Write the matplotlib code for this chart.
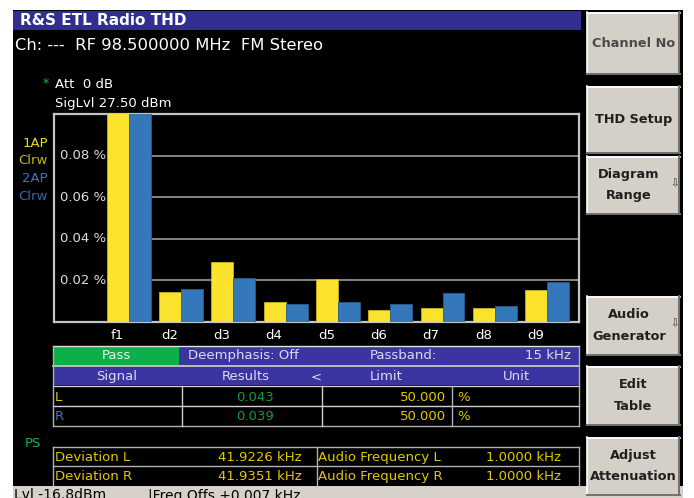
import matplotlib
matplotlib.use("Agg")
import matplotlib.pyplot as plt
from matplotlib.patches import Rectangle
from matplotlib.transforms import blended_transform_factory

# harmonic bars (percent), f1 runs off the top of the diagram
harmonics = ["f1", "d2", "d3", "d4", "d5", "d6", "d7", "d8", "d9"]
trace_1ap = [0.11, 0.0146, 0.0290, 0.0098, 0.0206, 0.0058, 0.0067, 0.0067, 0.0153]
trace_2ap = [0.11, 0.0157, 0.0210, 0.0087, 0.0098, 0.0087, 0.0138, 0.0077, 0.0191]
y_ticks = [0.02, 0.04, 0.06, 0.08]

# table contents
signals = ["L", "R"]
results = ["0.043", "0.039"]
limits = ["50.000", "50.000"]
deviations = ["41.9226 kHz", "41.9351 kHz"]
audio_freqs = ["1.0000 kHz", "1.0000 kHz"]
softkeys = ["Channel No", "THD Setup", "Diagram\nRange", "Audio\nGenerator",
            "Edit\nTable", "Adjust\nAttenuation"]

YELLOW = "#fbe22d"
BLUE = "#3477ba"
TXT_YEL = "#e2c800"
TXT_BLUE = "#3a78bd"
HEAD_BLUE = "#3a35a0"
GREEN_TXT = "#139a3c"
FS = 9.5

W, H = 694, 498
fig = plt.figure(figsize=(W / 100, H / 100), dpi=100)
fig.patch.set_facecolor("white")

# background layer in pixel coordinates
bg = fig.add_axes([0, 0, 1, 1])
bg.set_xlim(0, W)
bg.set_ylim(H, 0)
bg.axis("off")

def rect(x0, y0, x1, y1, fc, ec="none", lw=0, z=1):
    bg.add_patch(Rectangle((x0, y0), x1 - x0, y1 - y0, facecolor=fc,
                           edgecolor=ec, linewidth=lw, zorder=z))

def txt(x, y, s, color="white", size=FS, ha="left", **kw):
    bg.text(x, y, s, color=color, fontsize=size, ha=ha, va="center", zorder=5, **kw)

def hline(y, x0, x1, color="#d0d0d0", lw=1):
    bg.plot([x0, x1], [y, y], color=color, lw=lw, zorder=4)

def vline(x, y0, y1, color="#d0d0d0", lw=1):
    bg.plot([x, x], [y0, y1], color=color, lw=lw, zorder=4)

# screen
rect(13, 10, 683, 498, "black")
rect(13, 11, 581, 30, "#312e92")
txt(20, 20.5, "R&S ETL Radio THD", size=11, fontweight="bold")
txt(15, 45, "Ch: ---  RF 98.500000 MHz  FM Stereo", size=11.8)
txt(43, 83, "*", color="#19b34a", size=9)
txt(55, 84, "Att  0 dB", size=FS)
txt(55, 103, "SigLvl 27.50 dBm", size=FS)

# trace labels
txt(48, 143, "1AP", color="#f0d820", ha="right")
txt(48, 160, "Clrw", color="#c9b400", ha="right")
txt(48, 178, "2AP", color=TXT_BLUE, ha="right")
txt(48, 196, "Clrw", color="#2f69a8", ha="right")

# bar diagram
ax = fig.add_axes([54 / W, 1 - 322 / H, (579 - 54) / W, (322 - 114) / H])
ax.set_facecolor("black")
x = range(len(harmonics))
ax.bar([i - 0.42 for i in x], trace_1ap, width=0.42, align="edge",
       color=YELLOW, edgecolor="#c9b21c", linewidth=0.6, zorder=3)
ax.bar(list(x), trace_2ap, width=0.42, align="edge",
       color=BLUE, edgecolor="#285d92", linewidth=0.6, zorder=3)
ax.set_xlim(-1.43, 8.61)
ax.set_ylim(0, 0.1)
ax.hlines(y_ticks, -0.42, 8.61, color="#a8a8a8", lw=1.1, zorder=1)
trans = blended_transform_factory(ax.transAxes, ax.transData)
for t in y_ticks:
    ax.text(0.011, t, f"{t:.2f} %", transform=trans, color="#dcdcdc",
            fontsize=FS, va="center", ha="left")
ax.set_yticks([])
ax.set_xticks([i - 0.22 for i in x])
ax.set_xticklabels(harmonics, color="white", fontsize=FS)
ax.tick_params(axis="x", length=0, pad=5)
for sp in ax.spines.values():
    sp.set_color("#c4c4c4")
    sp.set_linewidth(1.6)

# pass / header rows
rect(53, 346, 579, 365, HEAD_BLUE)
rect(53, 346, 179, 365, "#0cb04a")
txt(116, 355.5, "Pass", color="#e8f4e8", ha="center")
txt(188, 355.5, "Deemphasis: Off", color="#dcdcf0")
txt(403, 355.5, "Passband:", color="#dcdcf0", ha="center")
txt(571, 355.5, "15 kHz", color="#dcdcf0", ha="right")
rect(53, 367, 579, 385, HEAD_BLUE)
hline(346, 53, 579, "#e0e0e0")
hline(366, 53, 579, "#e0e0e0", 1.2)
txt(117, 376, "Signal", color="#dcdcf0", ha="center")
txt(246, 376, "Results", color="#dcdcf0", ha="center")
txt(316, 377, "<", color="#dcdcf0", ha="center")
txt(386, 376, "Limit", color="#dcdcf0", ha="center")
txt(516, 376, "Unit", color="#dcdcf0", ha="center")

# result rows
rows_y = [397, 416]
for i, s in enumerate(signals):
    y = rows_y[i]
    txt(55, y, s, color=TXT_YEL if s == "L" else TXT_BLUE)
    txt(255, y, results[i], color=GREEN_TXT, ha="center")
    txt(446, y, limits[i], color=TXT_YEL, ha="right")
    txt(457, y, "%", color=TXT_YEL)
hline(386, 53, 579)
hline(406, 53, 579)
hline(425.5, 53, 579, "#b0b0b0")
vline(53, 346, 425.5, "#b0b0b0")
vline(579, 346, 425.5, "#b0b0b0")
vline(182, 386, 425.5)
vline(322, 386, 425.5)
vline(452, 386, 425.5, "#b0b0b0")

# deviation table
txt(25, 443, "PS", color="#19b34a")
dev_y = [457, 476]
names_dev = ["Deviation L", "Deviation R"]
names_af = ["Audio Frequency L", "Audio Frequency R"]
for i in range(2):
    txt(55, dev_y[i], names_dev[i], color=TXT_YEL)
    txt(302, dev_y[i], deviations[i], color=TXT_YEL, ha="right")
    txt(318, dev_y[i], names_af[i], color=TXT_YEL)
    txt(561, dev_y[i], audio_freqs[i], color=TXT_YEL, ha="right")
hline(447, 53, 579, "#b0b0b0")
hline(466, 53, 579, "#b0b0b0")
vline(53, 447, 486, "#b0b0b0")
vline(579, 447, 486, "#b0b0b0")
vline(317, 447, 486, "#b0b0b0")

# status bar (text runs off the bottom edge, as on the screenshot)
rect(13, 486, 683, 498, "#d6d2ca")
bg.text(14, 488, "Lvl -16.8dBm", color="black", fontsize=10, va="top", zorder=5)
bg.text(148, 488, "|Freq Offs +0.007 kHz", color="black", fontsize=10, va="top", zorder=5)

# softkeys
keys_y = [(12, 74), (86, 153), (156, 214), (296, 355), (366, 425), (437, 495)]
for label, (y0, y1) in zip(softkeys, keys_y):
    rect(587, y0, 680, y1, "#d4d0c8")
    hline(y0 + 0.5, 587, 680, "white", 1.2)
    vline(587.5, y0, y1, "white", 1.2)
    hline(y1 - 0.5, 587, 680, "#707070", 1.4)
    vline(679.5, y0, y1, "#707070", 1.4)
    col = "#4a4a4a" if label == "Channel No" else "#202020"
    cx = 629 if label in ("Diagram\nRange", "Audio\nGenerator") else 633.5
    bg.text(cx, (y0 + y1) / 2, label, color=col, fontsize=9.3, fontweight="bold",
            ha="center", va="center", linespacing=1.85, zorder=5)
    if cx != 633.5:
        txt(675, (y0 + y1) / 2 - 2, "\u21e9", color="#303030", size=7.5, ha="center")

fig.savefig("out.png", dpi=100, facecolor="white")
